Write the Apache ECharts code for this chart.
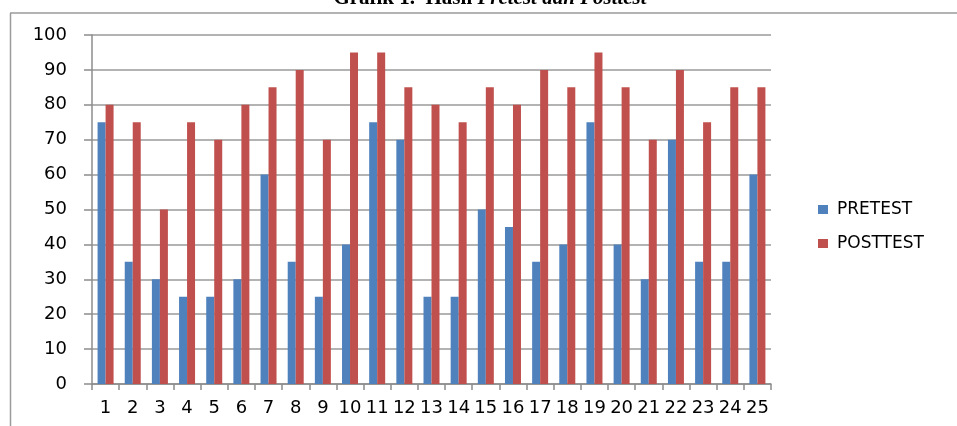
<!DOCTYPE html>
<html>
<head>
<meta charset="utf-8">
<script src="https://cdn.jsdelivr.net/npm/echarts@6/dist/echarts.min.js"></script>
<style>
html,body{margin:0;padding:0;background:#fff;}
#chart{width:957px;height:426px;}
</style>
</head>
<body>
<div id="chart"></div>
<script>
var categories = ['1','2','3','4','5','6','7','8','9','10','11','12','13','14','15','16','17','18','19','20','21','22','23','24','25'];
var pretest = [75,35,30,25,25,30,60,35,25,40,75,70,25,25,50,45,35,40,75,40,30,70,35,35,60];
var posttest = [80,75,50,75,70,80,85,90,70,95,95,85,80,75,85,80,90,85,95,85,70,90,75,85,85];
var seriesNames = ['PRETEST','POSTTEST'];
var yTicks = {min:0, max:100, interval:10};

var chart = echarts.init(document.getElementById('chart'), null, {renderer:'canvas'});
var font = 'DejaVu Sans';
chart.setOption({
  animation:false,
  backgroundColor:'#fff',
  textStyle:{fontFamily:font},
  graphic:[
    {type:'line', shape:{x1:10.5,y1:13,x2:10.5,y2:426}, style:{stroke:'#9a9a9a', lineWidth:1.5}},
    {type:'line', shape:{x1:10,y1:13,x2:957,y2:13}, style:{stroke:'#9a9a9a', lineWidth:1.5}},
    {type:'text', x:490, y:-1, style:{
      text:'{b|Grafik 1.  Hasil }{i|Pretest dan Posttest}',
      textAlign:'center', textVerticalAlign:'middle',
      rich:{
        b:{fontFamily:'Liberation Serif', fontWeight:'bold', fontSize:21, fill:'#000'},
        i:{fontFamily:'Liberation Serif', fontWeight:'bold', fontStyle:'italic', fontSize:21, fill:'#000'}
      }
    }}
  ],
  grid:{left:92, right:186, top:35, bottom:42},
  legend:{
    orient:'vertical', left:813, top:196,
    itemWidth:10, itemHeight:9, itemGap:17,
    icon:'rect',
    textStyle:{fontFamily:font, fontSize:17, color:'#000', padding:[0,0,0,4]},
    data:seriesNames
  },
  xAxis:{
    type:'category', data:categories, boundaryGap:true,
    axisLine:{lineStyle:{color:'#8c8c8c', width:1.5}},
    axisTick:{show:true, length:6, alignWithLabel:false, lineStyle:{color:'#8c8c8c', width:1.5}},
    axisLabel:{color:'#000', fontSize:18, fontFamily:font, margin:15, interval:0}
  },
  yAxis:{
    type:'value', min:yTicks.min, max:yTicks.max, interval:yTicks.interval,
    axisLine:{show:true, lineStyle:{color:'#8c8c8c', width:1.5}},
    axisTick:{show:true, length:8, lineStyle:{color:'#8c8c8c', width:1.5}},
    splitLine:{show:true, lineStyle:{color:'#9a9a9a', width:1.5}},
    axisLabel:{color:'#000', fontSize:18, fontFamily:font, margin:25}
  },
  series:[
    {name:seriesNames[0], type:'bar', data:pretest, barWidth:8, barGap:'0%', itemStyle:{color:'#4F81BD'}},
    {name:seriesNames[1], type:'bar', data:posttest, barWidth:8, barGap:'0%', itemStyle:{color:'#C0504D'}}
  ]
});
</script>
</body>
</html>
